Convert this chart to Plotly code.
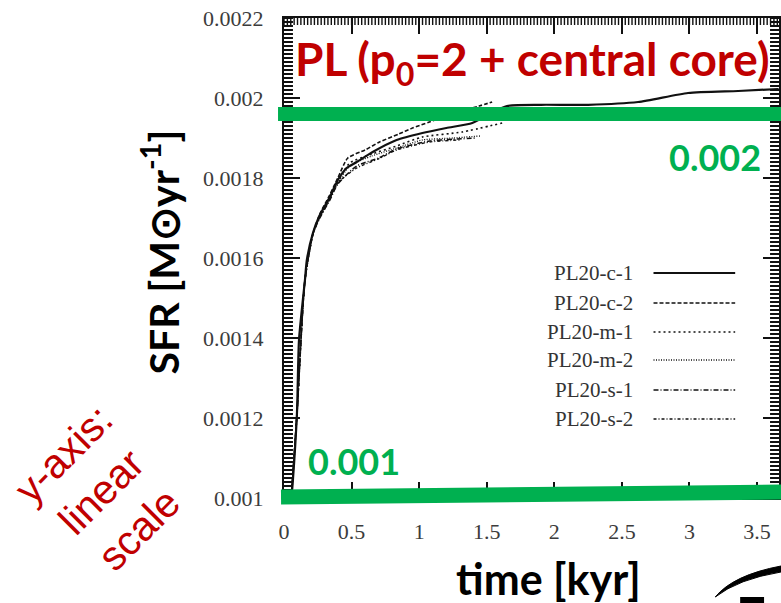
import plotly.graph_objects as go

# ---- data: star formation rate of the PL20 runs ----
# time in kyr, SFR in Msun / yr
t_c1 = [0.050, 0.066, 0.096, 0.111, 0.155, 0.169, 0.214, 0.265, 0.339, 0.398, 0.464,
        0.538, 0.656, 0.833, 1.024, 1.201, 1.393, 1.52, 1.65, 1.90, 2.25, 2.62, 2.99,
        3.36, 3.66]
sfr_c1 = [0.00098, 0.001045, 0.0012125, 0.001395, 0.001545, 0.001595, 0.0016625,
          0.0017075, 0.0017525, 0.001795, 0.001825, 0.00184, 0.001865, 0.001895,
          0.0019125, 0.001925, 0.0019375, 0.00196, 0.00198, 0.001983, 0.001983,
          0.00199, 0.0020125, 0.0020175, 0.0020225]

t_c2 = [0.050, 0.096, 0.155, 0.214, 0.265, 0.339, 0.398, 0.472, 0.60, 0.707, 0.85,
        0.951, 1.076, 1.297, 1.444, 1.54]
sfr_c2 = [0.00098, 0.00121, 0.001545, 0.00166, 0.00171, 0.001758, 0.0018, 0.00185,
          0.00187, 0.00189, 0.00191, 0.001925, 0.00194, 0.001965, 0.00198, 0.00199]

t_m1 = [0.050, 0.096, 0.155, 0.214, 0.265, 0.339, 0.398, 0.486, 0.65, 0.833, 1.024,
        1.319, 1.614]
sfr_m1 = [0.00098, 0.00121, 0.001545, 0.00166, 0.001705, 0.00175, 0.00179, 0.0018375,
          0.00186, 0.00188, 0.0019025, 0.001915, 0.0019375]

t_m2 = [0.050, 0.096, 0.155, 0.214, 0.265, 0.339, 0.398, 0.486, 0.65, 0.833, 1.024,
        1.25, 1.45]
sfr_m2 = [0.00098, 0.00121, 0.001545, 0.00166, 0.001703, 0.001748, 0.001787, 0.00183,
          0.001855, 0.001875, 0.001895, 0.0019, 0.001905]

t_s1 = [0.050, 0.096, 0.155, 0.214, 0.265, 0.339, 0.398, 0.538, 0.70, 0.833, 1.076,
        1.25, 1.422]
sfr_s1 = [0.00098, 0.00121, 0.001545, 0.00166, 0.0017, 0.001745, 0.001785, 0.00183,
          0.00185, 0.0018725, 0.0018925, 0.001897, 0.0019]

t_s2 = [0.050, 0.096, 0.155, 0.214, 0.265, 0.339, 0.398, 0.538, 0.70, 0.833, 1.076,
        1.30]
sfr_s2 = [0.00098, 0.00121, 0.001545, 0.00166, 0.001702, 0.001747, 0.001788, 0.001825,
          0.001848, 0.00187, 0.00189, 0.001895]

run_names = ["PL20-c-1", "PL20-c-2", "PL20-m-1", "PL20-m-2", "PL20-s-1", "PL20-s-2"]
run_dashes = ["solid", "4px,2px", "2px,3px", "1px,1.5px", "5px,2px,1px,2px", "3px,2px,1px,2px"]
run_widths = [2.2, 1.6, 1.6, 1.3, 1.6, 1.4]
series = [(t_c1, sfr_c1), (t_c2, sfr_c2), (t_m1, sfr_m1),
          (t_m2, sfr_m2), (t_s1, sfr_s1), (t_s2, sfr_s2)]

y_tick_vals = [0.001, 0.0012, 0.0014, 0.0016, 0.0018, 0.002, 0.0022]
y_tick_text = ["0.001", "0.0012", "0.0014", "0.0016", "0.0018", "0.002", "0.0022"]
x_tick_vals = [0, 0.5, 1, 1.5, 2, 2.5, 3, 3.5]
x_tick_text = ["0", "0.5", "1", "1.5", "2", "2.5", "3", "3.5"]
y_minor_step = 0.00001
x_minor_step = 0.025

# reference SFR levels marked on the plot
level_hi = 0.00196
level_lo = 0.0010025
level_hi_label = "0.002"
level_lo_label = "0.001"

# ---- geometry of the page (pixels) ----
W, H = 781, 603
L, R, T, B = 284, 781, 18, 498          # plot-area edges
Y0, Y1 = 0.001, 0.0022
X0, X1 = 0.0, (R - L) / 135.7

# positions of the fine minor ticks
y_minor_vals = [Y0 + i * y_minor_step for i in range(int(round((Y1 - Y0) / y_minor_step)) + 1)]
x_minor_vals = [X0 + i * x_minor_step for i in range(int((X1 - X0) / x_minor_step) + 1)]


def px(x):
    return (x - L) / (R - L)


def py(y):
    return (B - y) / (B - T)


def vy(v):
    return (v - Y0) / (Y1 - Y0)


fig = go.Figure()
ink = "#111111"
for (tt, ss), name, dash, w in zip(series, run_names, run_dashes, run_widths):
    fig.add_trace(go.Scatter(x=tt, y=ss, mode="lines", name=name, showlegend=False,
                             line=dict(color=ink, width=w, dash=dash, shape="spline",
                                       smoothing=0.6)))

tick_font = dict(family="Liberation Serif, DejaVu Serif, serif", size=22, color="#3c3c3c")

fig.update_layout(
    xaxis=dict(range=[X0, X1], tickmode="array", tickvals=x_tick_vals,
               ticktext=x_tick_text, ticks="inside", ticklen=16, tickwidth=1.5,
               tickcolor=ink, showline=True, linewidth=2, linecolor=ink,
               mirror="allticks", showgrid=False, zeroline=False,
               tickfont=tick_font, ticklabelstandoff=13),
    yaxis=dict(range=[Y0, Y1], tickmode="array", tickvals=y_tick_vals,
               ticktext=y_tick_text, ticks="inside", ticklen=16, tickwidth=1.5,
               tickcolor=ink, showline=True, linewidth=2, linecolor=ink,
               mirror="allticks", showgrid=False, zeroline=False,
               tickfont=tick_font, ticklabelstandoff=14),
)

shapes = []

# fine minor ticks on all four sides of the frame
ylen = 9 / (R - L)
xlen = 7 / (B - T)
shapes.append(dict(type="path", xref="paper", yref="y", layer="above",
                   path=" ".join(f"M0,{v:.7f} L{ylen:.5f},{v:.7f}" for v in y_minor_vals),
                   line=dict(color=ink, width=1.8)))
shapes.append(dict(type="path", xref="paper", yref="y", layer="above",
                   path=" ".join(f"M{1 - ylen:.5f},{v:.7f} L1,{v:.7f}" for v in y_minor_vals),
                   line=dict(color=ink, width=1.8)))
shapes.append(dict(type="path", xref="x", yref="paper", layer="above",
                   path=" ".join(f"M{v:.4f},0 L{v:.4f},{xlen:.5f}" for v in x_minor_vals),
                   line=dict(color=ink, width=1.4)))
shapes.append(dict(type="path", xref="x", yref="paper", layer="above",
                   path=" ".join(f"M{v:.4f},{1 - xlen:.5f} L{v:.4f},1" for v in x_minor_vals),
                   line=dict(color=ink, width=1.4)))

green = "#00b050"
# horizontal marker bars for the two SFR levels
shapes.append(dict(type="line", xref="paper", yref="paper",
                   x0=px(278), x1=px(790), y0=vy(level_hi), y1=vy(level_hi),
                   line=dict(color=green, width=14), layer="above"))
shapes.append(dict(type="line", xref="paper", yref="paper",
                   x0=px(281), x1=px(790), y0=vy(level_lo), y1=vy(level_lo) + 5 / 480,
                   line=dict(color=green, width=15), layer="above"))

# legend: label on the left, line sample on the right
leg_rows = [273, 303, 332, 360, 390, 419]
anns = []
for name, dash, w, yr in zip(run_names, run_dashes, run_widths, leg_rows):
    anns.append(dict(text=name, xref="paper", yref="paper", x=px(636), y=py(yr),
                     xanchor="right", yanchor="middle", showarrow=False,
                     font=dict(family="Liberation Serif, DejaVu Serif, serif", size=21,
                               color="#333333")))
    shapes.append(dict(type="line", xref="paper", yref="paper",
                       x0=px(655), x1=px(737), y0=py(yr), y1=py(yr),
                       line=dict(color=ink, width=w, dash=dash)))

# decorative brush stroke and bar at the lower right
p = lambda x, y: f"{px(x):.5f},{py(y):.5f}"
shapes.append(dict(type="path", xref="paper", yref="paper",
                   path=(f"M{p(717, 597)} Q{p(735, 575)} {p(783, 566)} "
                         f"L{p(783, 572)} Q{p(740, 579)} {p(717, 597)} Z"),
                   fillcolor="#000000", line=dict(color="#000000", width=1)))
shapes.append(dict(type="rect", xref="paper", yref="paper",
                   x0=px(742), x1=px(766), y0=py(604), y1=py(597),
                   fillcolor="#000000", line=dict(width=0)))

bold = "Lato, Open Sans, sans-serif"
anns += [
    dict(text="PL (p<sub>0</sub>=2 + central core)", xref="paper", yref="paper",
         x=px(534), y=py(62), xanchor="center", yanchor="middle", showarrow=False,
         font=dict(family=bold, size=46, color="#c00000", weight=700)),
    dict(text=level_hi_label, xref="paper", yref="paper", x=px(765), y=py(157),
         xanchor="right", yanchor="middle", showarrow=False,
         font=dict(family=bold, size=36, color=green, weight=700)),
    dict(text=level_lo_label, xref="paper", yref="paper", x=px(306), y=py(461),
         xanchor="left", yanchor="middle", showarrow=False,
         font=dict(family=bold, size=36, color=green, weight=700)),
    dict(text="SFR [M⊙yr<sup>-1</sup>]", xref="paper", yref="paper", x=px(160),
         y=py(252), xanchor="center", yanchor="middle", textangle=-90,
         showarrow=False, font=dict(family=bold, size=41, color="#000000", weight=700)),
    dict(text="time [kyr]", xref="paper", yref="paper", x=px(550), y=py(578),
         xanchor="center", yanchor="middle", showarrow=False,
         font=dict(family=bold, size=43, color="#000000", weight=700)),
    dict(text="y-axis:<br>linear<br>scale", xref="paper", yref="paper", x=px(100),
         y=py(492), xanchor="center", yanchor="middle", textangle=-45,
         showarrow=False, align="center",
         font=dict(family="Liberation Sans, Arial, sans-serif", size=41,
                   color="#c00000")),
]

fig.update_layout(width=W, height=H, margin=dict(l=L, r=W - R, t=T, b=H - B, pad=0),
                  paper_bgcolor="white", plot_bgcolor="white",
                  shapes=shapes, annotations=anns, showlegend=False)

fig.write_html("out.html")
